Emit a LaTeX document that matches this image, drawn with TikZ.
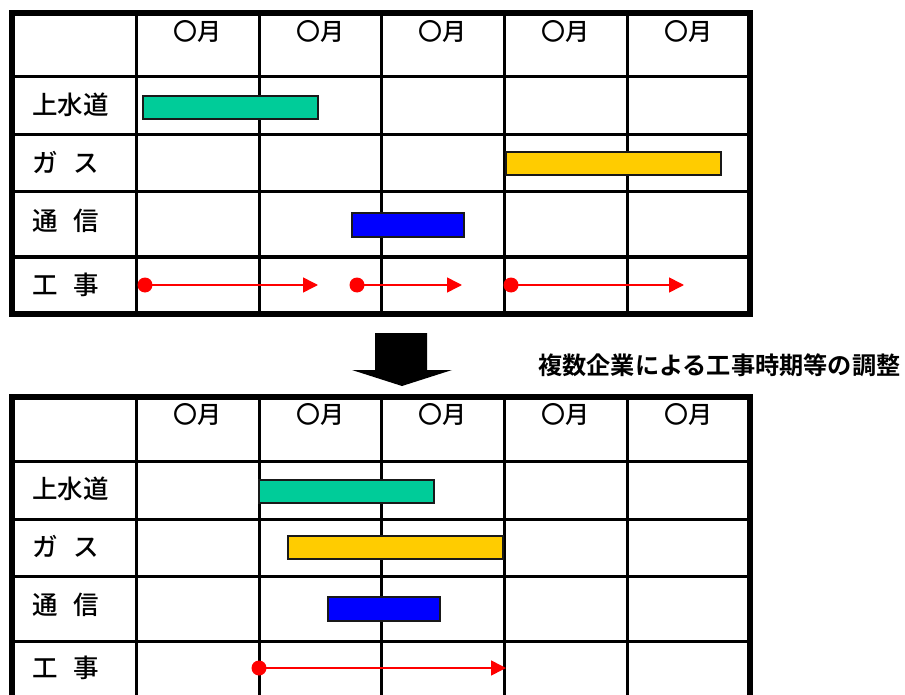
\documentclass[tikz,border=0pt]{standalone}
\usepackage{fontspec}
\newfontfamily\jp{Noto Sans CJK JP}[BoldFont={Noto Sans CJK JP Bold}]
\newfontfamily\jpm{Noto Sans CJK JP Medium}
\usetikzlibrary{arrows.meta}
\begin{document}
\begin{tikzpicture}[x=1pt,y=-1pt,
  inner/.style={line width=3pt,black},
  outer/.style={line width=5.5pt,black},
  month/.style={font=\jpm\fontsize{24}{28}\selectfont,inner sep=0pt,anchor=center},
  rowlab/.style={font=\jpm\fontsize{25.5}{29}\selectfont,inner sep=0pt,anchor=west},
  bar/.style={draw=black!90,line width=1.3pt},
  dotnode/.style={circle,fill=red,inner sep=0pt,minimum size=15pt},
  sched/.style={draw=red,line width=1.6pt,-{Triangle[length=15pt,width=15pt]}},
]
\useasboundingbox (0,0) rectangle (905,695);
\definecolor{gbar}{HTML}{00CC99}
\definecolor{ybar}{HTML}{FFCC00}
\definecolor{bbar}{HTML}{0000FF}
\def\cols{136,259,381,504,627}
% ---------- top table ----------
\foreach \x in \cols {\draw[inner] (\x,13) -- (\x,314);}
\foreach \y in {77,135,192,257} {\draw[inner] (12,\y) -- (750,\y);}
\draw[outer] (12,13) rectangle (750,314);
% ---------- bottom table ----------
\begin{scope}
\clip (0,380) rectangle (905,695);
\foreach \x in \cols {\draw[inner] (\x,397) -- (\x,702);}
\foreach \y in {461,519,576,641} {\draw[inner] (12,\y) -- (750,\y);}
\draw[outer] (12,397) rectangle (750,702);
\end{scope}
% month headers
\foreach \c [count=\i] in {197.5,320,442.5,565.5,688.5} {
  \node[month] (mt\i) at (\c,32) {〇月};
  \node[month] (mb\i) at (\c,414) {〇月};
}
% row labels
\node[rowlab] (t1) at (32,105) {上水道};
\node[rowlab] (t2) at (32,162) {ガ\hspace{0.6em}ス};
\node[rowlab] (t3) at (32,221) {通\hspace{0.6em}信};
\node[rowlab] (t4) at (32,285) {工\hspace{0.6em}事};
\node[rowlab] (b1) at (32,489) {上水道};
\node[rowlab] (b2) at (32,546) {ガ\hspace{0.6em}ス};
\node[rowlab] (b3) at (32,605) {通\hspace{0.6em}信};
\node[rowlab] (b4) at (32,668) {工\hspace{0.6em}事};
% bars top
\draw[bar,fill=gbar] (143,96) rectangle (318,119);
\draw[bar,fill=ybar] (506,152) rectangle (721,175);
\draw[bar,fill=bbar] (352,213) rectangle (464,237);
% bars bottom
\draw[bar,fill=gbar] (259,480) rectangle (434,503);
\draw[bar,fill=ybar] (288,536) rectangle (503,559);
\draw[bar,fill=bbar] (328,597) rectangle (440,621);
% schedule arrows top
\node[dotnode] (d1) at (145,285) {};
\coordinate (e1) at (318,285);
\node[dotnode] (d2) at (357,285) {};
\coordinate (e2) at (462,285);
\node[dotnode] (d3) at (511,285) {};
\coordinate (e3) at (684,285);
\draw[sched] (d1.center) -- (e1);
\draw[sched] (d2.center) -- (e2);
\draw[sched] (d3.center) -- (e3);
% schedule arrow bottom
\node[dotnode] (d4) at (259,668) {};
\coordinate (e4) at (506,668);
\draw[sched] (d4.center) -- (e4);
% block arrow
\fill[black] (375,333) -- (427,333) -- (427,370) -- (452,370) -- (402,386) -- (352,370) -- (375,370) -- cycle;
% title
\node[font=\jp\bfseries\fontsize{24.2}{28}\selectfont,inner sep=0pt,anchor=west] (title) at (538,365) {複数企業による工事時期等の調整};
\end{tikzpicture}
\end{document}
